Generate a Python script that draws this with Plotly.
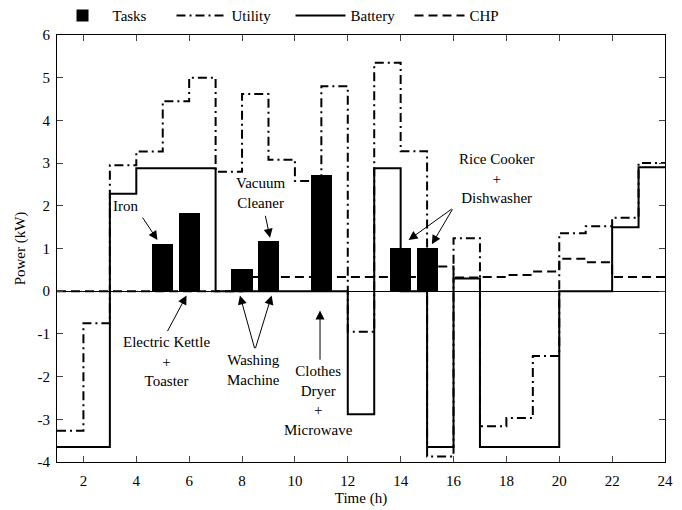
import plotly.graph_objects as go

# hour boundaries of each one-hour interval (start hours 1..23, end 24)
start_hours = list(range(1, 24))
end_hour = 24

utility = [-3.27, -0.75, 2.95, 3.27, 4.45, 5.0, 2.8, 4.62, 3.08, 2.58, 4.8, -0.95,
           5.35, 3.28, -3.87, 1.24, -3.16, -2.97, -1.52, 1.36, 1.52, 1.72, 3.0]
battery = [-3.65, -3.65, 2.28, 2.88, 2.88, 2.88, 0, 0, 0, 0, 0, -2.88,
           2.88, 0, -3.65, 0.3, -3.65, -3.65, -3.65, 0, 0, 1.5, 2.9]
chp = [0, 0, 0, 0, 0, 0, 0, 0.33, 0.33, 0.33, 0.33, 0.33,
       0.33, 0.33, 0.58, 0.32, 0.33, 0.38, 0.46, 0.76, 0.68, 0.33, 0.33]

task_hours = [5, 6, 8, 9, 11, 14, 15]
task_power = [1.1, 1.82, 0.52, 1.17, 2.72, 1.02, 1.02]

x_ticks = list(range(2, 25, 2))
y_ticks = list(range(-4, 7))

FONT = "Liberation Serif, Times New Roman, serif"

def step(vals):
    return start_hours + [end_hour], vals + [vals[-1]]

fig = go.Figure()
fig.add_trace(go.Bar(x=task_hours, y=task_power, width=0.8, name="Tasks",
                     marker=dict(color="black", line=dict(width=0))))
ux, uy = step(utility)
fig.add_trace(go.Scatter(x=ux, y=uy, mode="lines", name="Utility", line_shape="hv",
                         line=dict(color="black", width=2, dash="9px,4px,2px,4px")))
bx, by = step(battery)
fig.add_trace(go.Scatter(x=bx, y=by, mode="lines", name="Battery", line_shape="hv",
                         line=dict(color="black", width=2)))
cx, cy = step(chp)
fig.add_trace(go.Scatter(x=cx, y=cy, mode="lines", name="CHP", line_shape="hv",
                         line=dict(color="black", width=2, dash="9px,5px")))

# text labels
labels = [
    (3.6, 2.0, "Iron"),
    (8.68, 2.3, "Vacuum<br>Cleaner"),
    (17.62, 2.63, "Rice Cooker<br>+<br>Dishwasher"),
    (5.15, -1.64, "Electric Kettle<br>+<br>Toaster"),
    (8.45, -1.85, "Washing<br>Machine"),
    (10.88, -2.56, "Clothes<br>Dryer<br>+<br>Microwave"),
]
for x, y, t in labels:
    fig.add_annotation(x=x, y=y, text=t, showarrow=False,
                       font=dict(family=FONT, size=15, color="black"))

# arrows: (tail_x, tail_y, head_x, head_y)
arrows = [
    (4.2, 1.76, 4.8, 1.2),
    (8.87, 1.8, 9.06, 1.25),
    (15.99, 1.95, 14.3, 1.2),
    (15.99, 1.95, 15.18, 1.1),
    (5.15, -0.97, 5.9, -0.1),
    (8.49, -1.37, 7.92, -0.1),
    (8.49, -1.37, 9.12, -0.1),
    (10.95, -1.64, 10.95, -0.45),
]
for tx, ty, hx, hy in arrows:
    fig.add_annotation(x=hx, y=hy, ax=tx, ay=ty, xref="x", yref="y", axref="x", ayref="y",
                       text="", showarrow=True, arrowhead=2, arrowsize=1.8,
                       arrowwidth=1, arrowcolor="black")

fig.update_layout(
    width=682, height=510,
    margin=dict(l=57, r=17, t=35, b=48, pad=0),
    plot_bgcolor="white", paper_bgcolor="white",
    font=dict(family=FONT, size=14, color="black"),
    showlegend=True,
    legend=dict(orientation="h", xref="container", yref="container",
                x=0.077, y=0.969, xanchor="left", yanchor="middle",
                itemwidth=50, entrywidth=54, entrywidthmode="pixels",
                font=dict(family=FONT, size=15), bgcolor="rgba(0,0,0,0)",
                traceorder="normal", tracegroupgap=0),
    bargap=0,
)
fig.update_xaxes(range=[1, 24], tickvals=x_ticks, ticks="inside", ticklen=6,
                 showline=True, linecolor="black", linewidth=1, mirror="ticks",
                 showgrid=False, zeroline=False, ticklabelstandoff=5, automargin=False,
                 title=dict(text="Time (h)", font=dict(family=FONT, size=15), standoff=4),
                 tickfont=dict(family=FONT, size=15))
fig.update_yaxes(range=[-4, 6], tickvals=y_ticks, ticktext=[str(v) for v in y_ticks],
                 ticks="inside", ticklen=6, automargin=False,
                 showline=True, linecolor="black", linewidth=1, mirror="ticks",
                 showgrid=False, zeroline=True, zerolinecolor="black", zerolinewidth=1,
                 ticklabelstandoff=3,
                 title=dict(text="Power (kW)", font=dict(family=FONT, size=15), standoff=8),
                 tickfont=dict(family=FONT, size=15))

fig.write_html("out.html")
